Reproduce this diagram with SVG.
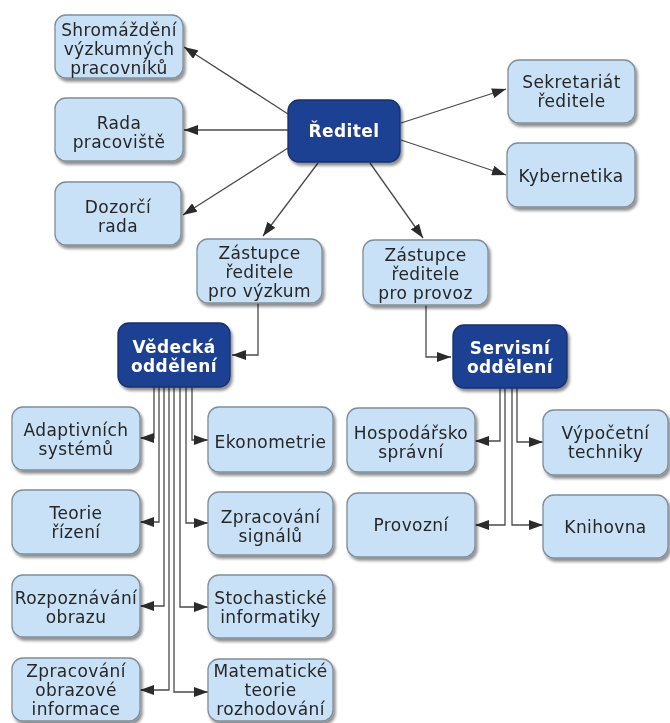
<svg xmlns="http://www.w3.org/2000/svg" width="670" height="723" viewBox="0 0 670 723">
<defs>
<filter id="sh" x="-10%" y="-10%" width="125%" height="130%">
<feGaussianBlur in="SourceAlpha" stdDeviation="1.5"/>
<feOffset dx="2" dy="2.5" result="b"/>
<feComponentTransfer><feFuncA type="linear" slope="0.45"/></feComponentTransfer>
<feMerge><feMergeNode/><feMergeNode in="SourceGraphic"/></feMerge>
</filter>
<marker id="ar" markerUnits="userSpaceOnUse" markerWidth="14" markerHeight="10" refX="14" refY="5" orient="auto">
<path d="M0,0 L14,5 L0,10 z" fill="#2b2b2b"/>
</marker>
</defs>
<style>
.l rect{fill:#c9e1f6;stroke:#7f8d9b;stroke-width:1.3}
.d rect{fill:#1f3f92;stroke:#18306f;stroke-width:1.3}
text{font-family:"DejaVu Sans",Verdana,sans-serif;font-size:17px;letter-spacing:0.4px;text-anchor:middle}
.l text{fill:#262626}
.d text{fill:#ffffff;font-weight:bold}
.c path,.c line{fill:none;stroke:#4a4a4a;stroke-width:1.3;marker-end:url(#ar)}
</style>
<rect width="670" height="723" fill="#ffffff"/>
<g class="c" id="connectors">
<line x1="288" y1="114" x2="184" y2="47"/>
<line x1="288" y1="130" x2="184" y2="130"/>
<line x1="288" y1="148" x2="183" y2="215"/>
<line x1="318" y1="163" x2="263" y2="236"/>
<line x1="401" y1="123" x2="506" y2="89"/>
<line x1="401" y1="140" x2="506" y2="175"/>
<line x1="370" y1="163" x2="423" y2="238"/>
<path d="M258,303 V355 H232"/>
<path d="M426,305 V357 H451"/>
<path d="M154,387 V438 H140"/>
<path d="M159,387 V522 H140"/>
<path d="M164,387 V606 H140"/>
<path d="M169,387 V690 H140"/>
<path d="M192,387 V440 H208"/>
<path d="M186,387 V523 H208"/>
<path d="M180,387 V607 H208"/>
<path d="M174,387 V692 H208"/>
<path d="M500,388 V441 H475"/>
<path d="M505,388 V525 H475"/>
<path d="M517,388 V442 H543"/>
<path d="M512,388 V525 H543"/>
</g>
<g id="shromazdeni" class="l" filter="url(#sh)"><rect x="55" y="15" width="128" height="63" rx="11"/><text x="119" y="35.5">Shromáždění</text><text x="119" y="54.5">výzkumných</text><text x="119" y="73.5">pracovníků</text></g>
<g id="rada" class="l" filter="url(#sh)"><rect x="55" y="98" width="128" height="63" rx="11"/><text x="119" y="129">Rada</text><text x="119" y="148">pracoviště</text></g>
<g id="dozorci" class="l" filter="url(#sh)"><rect x="55" y="182" width="126" height="63" rx="11"/><text x="118" y="213">Dozorčí</text><text x="118" y="232">rada</text></g>
<g id="reditel" class="d" filter="url(#sh)"><rect x="288" y="100" width="112" height="62" rx="11"/><text x="344" y="137">Ředitel</text></g>
<g id="sekretariat" class="l" filter="url(#sh)"><rect x="508" y="60" width="127" height="63" rx="11"/><text x="571.5" y="88">Sekretariát</text><text x="571.5" y="107">ředitele</text></g>
<g id="kybernetika" class="l" filter="url(#sh)"><rect x="507" y="143" width="128" height="64" rx="11"/><text x="571" y="182">Kybernetika</text></g>
<g id="zastupce-vyzkum" class="l" filter="url(#sh)"><rect x="197" y="239" width="125" height="64" rx="11"/><text x="259.5" y="259">Zástupce</text><text x="259.5" y="278">ředitele</text><text x="259.5" y="297">pro výzkum</text></g>
<g id="zastupce-provoz" class="l" filter="url(#sh)"><rect x="363" y="240" width="125" height="65" rx="11"/><text x="425.5" y="261">Zástupce</text><text x="425.5" y="280">ředitele</text><text x="425.5" y="299">pro provoz</text></g>
<g id="vedecka" class="d" filter="url(#sh)"><rect x="118" y="323" width="112" height="64" rx="11"/><text x="174" y="353">Vědecká</text><text x="174" y="372">oddělení</text></g>
<g id="servisni" class="d" filter="url(#sh)"><rect x="453" y="325" width="114" height="63" rx="11"/><text x="510" y="354">Servisní</text><text x="510" y="373">oddělení</text></g>
<g id="adaptivnich" class="l" filter="url(#sh)"><rect x="12" y="407" width="128" height="63" rx="11"/><text x="76" y="436">Adaptivních</text><text x="76" y="455">systémů</text></g>
<g id="teorie-rizeni" class="l" filter="url(#sh)"><rect x="12" y="490" width="128" height="64" rx="11"/><text x="76" y="519">Teorie</text><text x="76" y="538">řízení</text></g>
<g id="rozpoznavani" class="l" filter="url(#sh)"><rect x="12" y="575" width="128" height="62" rx="11"/><text x="76" y="604">Rozpoznávání</text><text x="76" y="623">obrazu</text></g>
<g id="zpracovani-obrazove" class="l" filter="url(#sh)"><rect x="12" y="658" width="128" height="63" rx="11"/><text x="76" y="676.5">Zpracování</text><text x="76" y="695.5">obrazové</text><text x="76" y="714.5">informace</text></g>
<g id="ekonometrie" class="l" filter="url(#sh)"><rect x="208" y="407" width="125" height="65" rx="11"/><text x="270.5" y="448">Ekonometrie</text></g>
<g id="zpracovani-signalu" class="l" filter="url(#sh)"><rect x="208" y="492" width="125" height="63" rx="11"/><text x="270.5" y="522.5">Zpracování</text><text x="270.5" y="541.5">signálů</text></g>
<g id="stochasticke" class="l" filter="url(#sh)"><rect x="208" y="575" width="125" height="63" rx="11"/><text x="270.5" y="604">Stochastické</text><text x="270.5" y="623">informatiky</text></g>
<g id="matematicke" class="l" filter="url(#sh)"><rect x="208" y="659" width="125" height="62" rx="11"/><text x="270.5" y="677">Matematické</text><text x="270.5" y="696">teorie</text><text x="270.5" y="715">rozhodování</text></g>
<g id="hospodarsko" class="l" filter="url(#sh)"><rect x="347" y="408" width="128" height="64" rx="11"/><text x="411" y="439">Hospodářsko</text><text x="411" y="458">správní</text></g>
<g id="provozni" class="l" filter="url(#sh)"><rect x="347" y="493" width="128" height="64" rx="11"/><text x="411" y="531">Provozní</text></g>
<g id="vypocetni" class="l" filter="url(#sh)"><rect x="543" y="410" width="125" height="65" rx="11"/><text x="605.5" y="439">Výpočetní</text><text x="605.5" y="458">techniky</text></g>
<g id="knihovna" class="l" filter="url(#sh)"><rect x="543" y="495" width="125" height="63" rx="11"/><text x="605.5" y="533">Knihovna</text></g>
</svg>
